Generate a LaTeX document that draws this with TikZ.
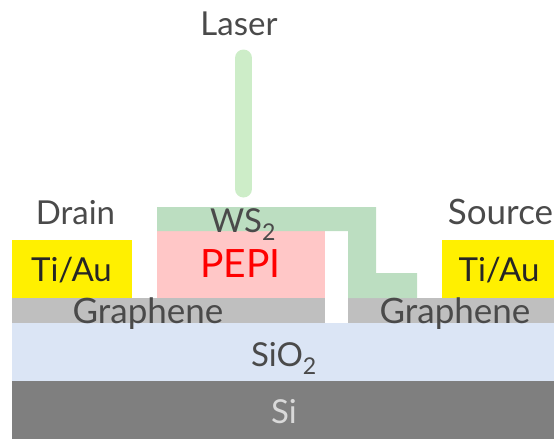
\documentclass[tikz,border=0pt]{standalone}
\usepackage{fontspec}
\setmainfont{Lato}
\usepackage{xcolor}
\definecolor{goldlayer}{HTML}{FFF000}
\definecolor{greylayer}{HTML}{BFBFBF}
\definecolor{oxidelayer}{HTML}{DBE5F5}
\definecolor{silayer}{HTML}{7F7F7F}
\definecolor{pepilayer}{HTML}{FFC7C7}
\definecolor{wslayer}{HTML}{BCDEC1}
\definecolor{beamcol}{HTML}{CDEDC8}
\definecolor{labelcol}{HTML}{4A4A4A}
\tikzset{
  lab/.style={inner sep=0pt,anchor=base,text=labelcol,font=\fontsize{33}{36}\selectfont},
  blk/.style={lab,text=black!85},
  wide/.style={lab,font=\fontsize{35}{38}\selectfont}
}
\begin{document}
\begin{tikzpicture}[x=1pt,y=-1pt]
  \useasboundingbox (0,0) rectangle (554,439);
  \fill[silayer] (12,381) rectangle (554,439);
  \fill[oxidelayer] (12,323) rectangle (554,381);
  \fill[greylayer] (12,298) rectangle (325,323);
  \fill[greylayer] (348,298) rectangle (554,323);
  \fill[goldlayer] (12,240) rectangle (132,298);
  \fill[goldlayer] (442,240) rectangle (554,298);
  \fill[pepilayer] (157,231) rectangle (325,298);
  \fill[wslayer] (157,207) -- (376,207) -- (376,273) -- (417,273) -- (417,298)
    -- (348,298) -- (348,231) -- (157,231) -- cycle;
  \draw[beamcol,line width=17pt,line cap=round] (243.5,58) -- (243.5,189);
  \node[lab] (laser) at (239,35) {Laser};
  \node[lab] (drain) at (75.5,224) {Drain};
  \node[wide] (source) at (500.5,224) {Source};
  \node[blk] (tiauL) at (71.5,281) {Ti/Au};
  \node[blk] (tiauR) at (499,281) {Ti/Au};
  \node[lab] (wsTwo) at (243,232) {WS\textsubscript{2}};
  \node[lab,text=red,font=\fontsize{39}{41}\selectfont] (pepi) at (240.5,277) {PEPI};
  \node[wide] (grapheneL) at (148,323) {Graphene};
  \node[wide] (grapheneR) at (455,323) {Graphene};
  \node[lab] (oxide) at (284,366) {SiO\textsubscript{2}};
  \node[lab,text=white!85!black] (si) at (284,423) {Si};
\end{tikzpicture}
\end{document}
